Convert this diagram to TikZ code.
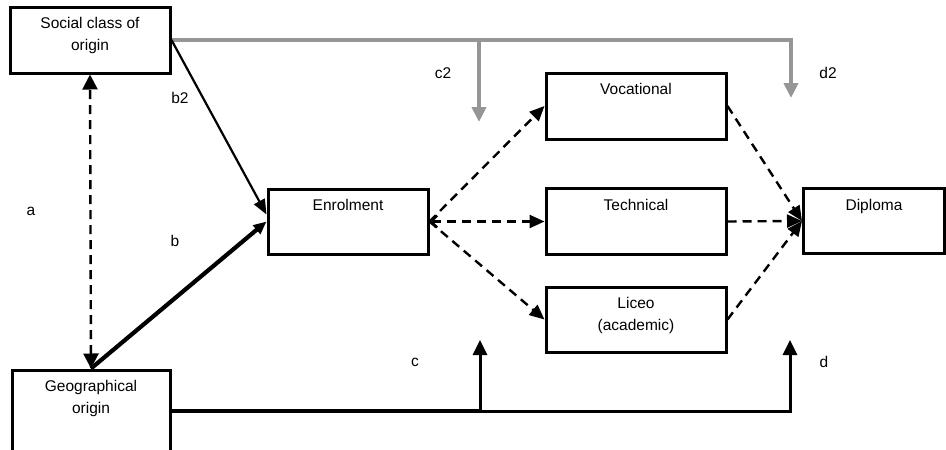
\documentclass[tikz,border=0pt]{standalone}
\usepackage{fontspec}
\setmainfont{Liberation Sans}
\usetikzlibrary{arrows.meta}
\definecolor{pathgray}{RGB}{150,150,150}
\tikzset{
  box/.style={draw, line width=3pt, inner sep=0pt, fill=white},
  txt/.style={anchor=north, yshift=-12pt, align=center, inner sep=0pt, font=\fontsize{15.5}{22}\selectfont},
  lab/.style={inner sep=0pt, font=\fontsize{15.5}{22}\selectfont},
  tip/.style={-{Triangle[length=15pt,width=14pt]}},
  dashline/.style={line width=2.4pt, dash pattern=on 9pt off 6pt, -{Triangle[length=15pt,width=13pt]}},
  grayline/.style={draw=pathgray, line width=3.8pt},
}
\begin{document}
\begin{tikzpicture}[x=1pt,y=-1pt]
\clip (0,0) rectangle (946,450);
\fill[white] (0,0) rectangle (946,450);
% boxes
\node[box, minimum width=160pt, minimum height=66pt, label={[txt]north:Social class of\\origin}] (soc) at (90,40) {};
\node[box, minimum width=158pt, minimum height=82pt, label={[txt]north:Geographical\\origin}] (geo) at (91,411) {};
\node[box, minimum width=160pt, minimum height=65pt, label={[txt]north:Enrolment}] (enr) at (348,221.5) {};
\node[box, minimum width=180pt, minimum height=66pt, label={[txt]north:Vocational}] (voc) at (636,106) {};
\node[box, minimum width=180pt, minimum height=66pt, label={[txt]north:Technical}] (tech) at (636,221.5) {};
\node[box, minimum width=180pt, minimum height=65pt, label={[txt]north:Liceo\\(academic)}] (lic) at (636,319.5) {};
\node[box, minimum width=141pt, minimum height=65pt, label={[txt]north:Diploma}] (dip) at (874,221) {};
% labels
\node[lab] (la) at (31,211) {a};
\node[lab] (lb) at (175,241) {b};
\node[lab] (lb2) at (180,98) {b2};
\node[lab] (lc2) at (443,73) {c2};
\node[lab] (ld2) at (828,73) {d2};
\node[lab] (lc) at (415,362) {c};
\node[lab] (ld) at (824,362) {d};
% coordinates
\coordinate (c2c) at (479,40);
\coordinate (c2t) at (479,122);
\coordinate (d2t) at (791,98);
\coordinate (cc) at (480,411);
\coordinate (ct) at (480,340);
\coordinate (dt) at (790,340);
% gray paths
\draw[grayline] (soc.east) -- (c2c);
\draw[grayline, tip] (c2c) -- (c2t);
\draw[grayline, tip] (c2c) -| (d2t);
% black paths from geo
\draw[line width=4.2pt] (geo.east) -- (cc);
\draw[line width=3pt, tip] (cc) -- (ct);
\draw[line width=3pt, tip] (cc) -| (dt);
% a
\draw[line width=2.4pt, dash pattern=on 9pt off 6pt, {Triangle[length=15pt,width=15pt]}-{Triangle[length=15pt,width=15pt]}] (geo.north) -- (soc.south);
% b2, b
\draw[line width=2.2pt, -{Triangle[length=15pt,width=12pt]}] (soc.east) -- ([yshift=7pt]enr.west);
\draw[line width=4.2pt, -{Triangle[length=13pt,width=11pt]}] (geo.north) -- (enr.west);
% dashed to tracks
\draw[dashline] (enr.east) -- (voc.west);
\draw[dashline, {Straight Barb[length=6pt,width=12pt]}-{Triangle[length=15pt,width=13pt]}] (enr.east) -- (tech.west);
\draw[dashline] (enr.east) -- (lic.west);
% dashed to diploma
\draw[dashline] (voc.east) -- (dip.west);
\draw[dashline] (tech.east) -- (dip.west);
\draw[dashline] (lic.east) -- (dip.west);
\end{tikzpicture}
\end{document}
